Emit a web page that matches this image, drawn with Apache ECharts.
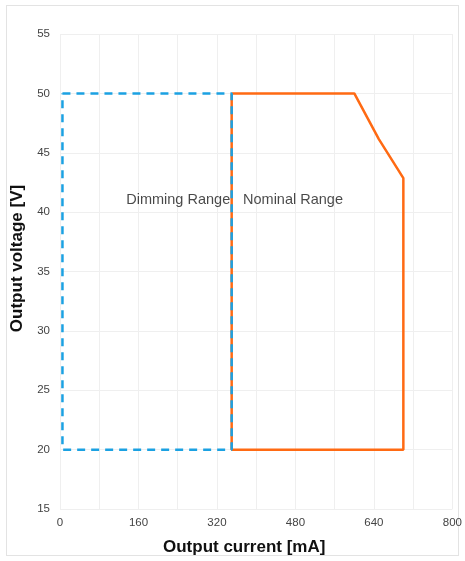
<!DOCTYPE html>
<html>
<head>
<meta charset="utf-8">
<script src="https://cdn.jsdelivr.net/npm/echarts@6/dist/echarts.min.js"></script>
<style>
html,body{margin:0;padding:0;background:#fff;}
#frame{position:absolute;left:6px;top:5px;width:453px;height:551px;border:1px solid #e3e3e3;box-sizing:border-box;}
#c{position:absolute;left:0;top:0;width:465px;height:561px;}
</style>
</head>
<body>
<div id="frame"></div>
<div id="c"></div>
<script>
// Data
const dimmingRange = [[5, 50], [350, 50], [350, 20], [5, 20], [5, 50]];
const nominalRange = [[350, 50], [600, 50], [650, 46.15], [700, 42.86], [700, 20], [350, 20], [350, 50]];
const rangeLabels = [
  { name: 'Dimming Range', value: [241, 41] },
  { name: 'Nominal Range', value: [475, 41] }
];
const xTicks = [0, 160, 320, 480, 640, 800];
const yTicks = [15, 20, 25, 30, 35, 40, 45, 50, 55];

const chart = echarts.init(document.getElementById('c'));
chart.setOption({
  backgroundColor: 'transparent',
  animation: false,
  grid: { left: 60, right: 11, top: 34, bottom: 52, containLabel: false },
  xAxis: {
    type: 'value', min: 0, max: 800, interval: 80,
    name: 'Output current [mA]', nameLocation: 'middle', nameGap: 30,
    nameTextStyle: { fontFamily: 'Liberation Sans, Arial', fontWeight: 'bold', fontSize: 17, color: '#111', padding: [0, 24, 0, 0] },
    axisLine: { show: false }, axisTick: { show: false },
    axisLabel: {
      color: '#444', fontSize: 11.5, fontFamily: 'Liberation Sans, Arial', margin: 8,
      formatter: v => xTicks.indexOf(v) >= 0 ? String(v) : ''
    },
    splitLine: { show: true, lineStyle: { color: '#efefef', width: 1 } }
  },
  yAxis: {
    type: 'value', min: 15, max: 55, interval: 5,
    name: 'Output voltage [V]', nameLocation: 'middle', nameGap: 29,
    nameTextStyle: { fontFamily: 'Liberation Sans, Arial', fontWeight: 'bold', fontSize: 17, color: '#111', padding: [0, 0, 0, 26] },
    axisLine: { show: false }, axisTick: { show: false },
    axisLabel: {
      color: '#444', fontSize: 11.5, fontFamily: 'Liberation Sans, Arial', margin: 10,
      formatter: v => yTicks.indexOf(v) >= 0 ? String(v) : ''
    },
    splitLine: { show: true, lineStyle: { color: '#efefef', width: 1 } }
  },
  series: [
    {
      type: 'line', data: nominalRange, symbol: 'none', z: 2,
      lineStyle: { color: '#ff6a13', width: 2.5, type: 'solid' }
    },
    {
      type: 'line', data: dimmingRange, symbol: 'none', z: 3,
      lineStyle: { color: '#1ba1e2', width: 2.5, type: [8, 6] }
    },
    {
      type: 'scatter', data: rangeLabels, symbolSize: 0, z: 4,
      label: {
        show: true, position: 'inside', formatter: p => p.name,
        color: '#1a1a1a', fontSize: 14.5, fontFamily: 'Liberation Sans, Arial'
      }
    }
  ]
});
</script>
</body>
</html>
